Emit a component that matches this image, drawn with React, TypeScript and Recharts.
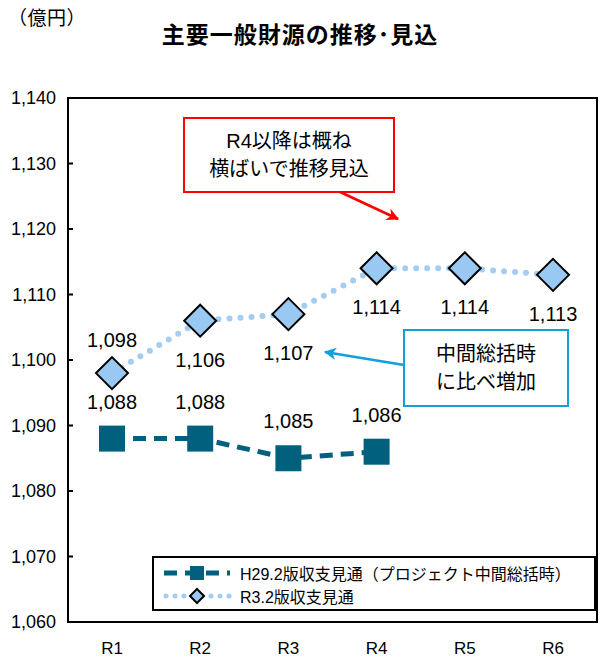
import React from 'react';
import { LineChart, Line, XAxis, YAxis, LabelList } from 'recharts';

const categories = ['R1', 'R2', 'R3', 'R4', 'R5', 'R6'];
const h29Values = [1088, 1088, 1085, 1086];
const r3Values = [1098, 1106, 1107, 1114, 1114, 1113];
const yTicks = [1060, 1070, 1080, 1090, 1100, 1110, 1120, 1130, 1140];
const h29Name = 'H29.2版収支見通（プロジェクト中間総括時）';
const r3Name = 'R3.2版収支見通';

const data = categories.map((name, i) => ({
  name,
  h29: i < h29Values.length ? h29Values[i] : null,
  r3: r3Values[i],
}));

const FONT = '"Liberation Sans", Arial, "Noto Sans CJK JP", sans-serif';
const TEAL = '#00607e';
const LIGHT = '#99c9f3';
const DOT = '#a3cdf3';

// chart box
const W = 607;
const H = 668;
const M = { top: 98, right: 10, left: 8, bottom: 6 };
const Y_W = 60;
const X_H = 40;
const Y_MIN = yTicks[0];
const Y_MAX = yTicks[yTicks.length - 1];

const fmt = (v: number) => v.toLocaleString('en-US');

const SquareDot = (props: any) => {
  const { cx, cy } = props;
  if (cx == null || cy == null) return null;
  return <rect x={cx - 13} y={cy - 13} width={26} height={26} fill={TEAL} />;
};

const DiamondDot = (props: any) => {
  const { cx, cy } = props;
  if (cx == null || cy == null) return null;
  const r = 16;
  return (
    <polygon
      points={`${cx},${cy - r} ${cx + r},${cy} ${cx},${cy + r} ${cx - r},${cy}`}
      fill={LIGHT}
      stroke="#000"
      strokeWidth={2}
    />
  );
};

const h29Label = (props: any) => {
  const { x, y, value } = props;
  if (value == null) return null;
  return (
    <text x={x} y={y - 37} dy={7} textAnchor="middle" fontSize={20} fill="#000" fontFamily={FONT}>
      {fmt(value)}
    </text>
  );
};

const r3Label = (props: any) => {
  const { x, y, value, index } = props;
  const off = index === 0 ? -33 : 39;
  return (
    <text x={x} y={y + off} dy={7} textAnchor="middle" fontSize={20} fill="#000" fontFamily={FONT}>
      {fmt(value)}
    </text>
  );
};

const boxText: React.CSSProperties = {
  position: 'absolute',
  background: '#fff',
  display: 'flex',
  flexDirection: 'column',
  alignItems: 'center',
  justifyContent: 'center',
  fontSize: 20,
  lineHeight: '28px',
  color: '#000',
  fontFamily: FONT,
  boxSizing: 'border-box',
};

export default function App() {
  const px = M.left + Y_W;
  const py = M.top;
  const pw = W - M.right - px;
  const ph = H - M.bottom - X_H - py;
  const tickY = (v: number) => py + (ph * (Y_MAX - v)) / (Y_MAX - Y_MIN);
  return (
    <div style={{ position: 'absolute', left: 0, top: 0, width: W, height: H, background: '#fff', fontFamily: FONT }}>
      <div style={{ position: 'absolute', left: 8, top: 3, fontSize: 19, letterSpacing: 0.5, color: '#000' }}>（億円）</div>
      <div
        style={{
          position: 'absolute',
          left: 0,
          width: 600,
          top: 16,
          textAlign: 'center',
          fontSize: 23,
          fontWeight: 'bold',
          letterSpacing: 1,
          color: '#000',
          fontFamily: '"Noto Sans CJK JP", sans-serif',
        }}
      >
        主要一般財源の推移･見込
      </div>

      <div style={{ position: 'absolute', left: 0, top: 0 }}>
        <LineChart width={W} height={H} data={data} margin={M}>
          <XAxis
            dataKey="name"
            tickLine={false}
            axisLine={false}
            tickSize={0}
            tickMargin={20}
            height={X_H}
            padding={{ left: 44, right: 44 }}
            tick={{ fontSize: 17, fill: '#000', fontFamily: FONT }}
          />
          <YAxis
            domain={[Y_MIN, Y_MAX]}
            ticks={yTicks}
            width={Y_W}
            axisLine={false}
            tickLine={false}
            tickSize={-7}
            tickMargin={19}
            tickFormatter={fmt}
            tick={{ fontSize: 18, fill: '#000', fontFamily: FONT }}
            interval={0}
          />
          <Line
            dataKey="h29"
            name={h29Name}
            stroke={TEAL}
            strokeWidth={5}
            strokeDasharray="13 8"
            dot={<SquareDot />}
            activeDot={false}
            isAnimationActive={false}
            connectNulls={false}
          >
            <LabelList dataKey="h29" content={h29Label} />
          </Line>
          <Line
            dataKey="r3"
            name={r3Name}
            stroke={DOT}
            strokeWidth={6}
            strokeDasharray="0 11"
            strokeLinecap="round"
            dot={<DiamondDot />}
            activeDot={false}
            isAnimationActive={false}
          >
            <LabelList dataKey="r3" content={r3Label} />
          </Line>
        </LineChart>
      </div>

      {/* frame, inward ticks, arrows */}
      <svg width={W} height={H} style={{ position: 'absolute', left: 0, top: 0, pointerEvents: 'none' }}>
        <defs>
          <marker id="redHead" viewBox="0 0 10 10" refX="9" refY="5" markerWidth="5" markerHeight="5" orient="auto">
            <path d="M0,0 L10,5 L0,10 L3,5 z" fill="#ff0000" />
          </marker>
          <marker id="blueHead" viewBox="0 0 10 10" refX="9" refY="5" markerWidth="5" markerHeight="5" orient="auto">
            <path d="M0,0 L10,5 L0,10 L3,5 z" fill="#10a0dc" />
          </marker>
        </defs>
        <rect x={px} y={py} width={pw} height={ph} fill="none" stroke="#000" strokeWidth={2} />
        {yTicks.slice(1, -1).map((v) => (
          <line key={v} x1={px} x2={px + 5} y1={tickY(v)} y2={tickY(v)} stroke="#000" strokeWidth={2} />
        ))}
        <line x1={338} y1={191} x2={398} y2={219} stroke="#ff0000" strokeWidth={2.5} markerEnd="url(#redHead)" />
        <line x1={404} y1={365} x2={325} y2={352} stroke="#10a0dc" strokeWidth={2.5} markerEnd="url(#blueHead)" />
      </svg>

      <div style={{ ...boxText, left: 183, top: 117, width: 212, height: 76, border: '2.5px solid #ff0000' }}>
        <div>R4以降は概ね</div>
        <div>横ばいで推移見込</div>
      </div>
      <div style={{ ...boxText, left: 403, top: 329, width: 166, height: 78, border: '2.5px solid #10a0dc' }}>
        <div>中間総括時</div>
        <div>に比べ増加</div>
      </div>

      {/* legend */}
      <div
        style={{
          position: 'absolute',
          left: 152,
          top: 556,
          width: 444,
          height: 55,
          border: '2px solid #000',
          background: '#fff',
          boxSizing: 'border-box',
          fontSize: 16,
          color: '#000',
          fontFamily: FONT,
        }}
      >
        <div style={{ position: 'absolute', left: 8, top: 3, display: 'flex', alignItems: 'center', height: 24 }}>
          <svg width={70} height={20}>
            <line x1={2} x2={68} y1={10} y2={10} stroke={TEAL} strokeWidth={5} strokeDasharray="13 8" />
            <rect x={28} y={3} width={14} height={14} fill={TEAL} />
          </svg>
          <span style={{ marginLeft: 8 }}>{h29Name}</span>
        </div>
        <div style={{ position: 'absolute', left: 8, top: 26, display: 'flex', alignItems: 'center', height: 24 }}>
          <svg width={70} height={20}>
            <line x1={4} x2={68} y1={10} y2={10} stroke={DOT} strokeWidth={5} strokeDasharray="0 9" strokeLinecap="round" />
            <polygon points="35,3 42,10 35,17 28,10" fill={LIGHT} stroke="#000" strokeWidth={2} />
          </svg>
          <span style={{ marginLeft: 8 }}>{r3Name}</span>
        </div>
      </div>
    </div>
  );
}
